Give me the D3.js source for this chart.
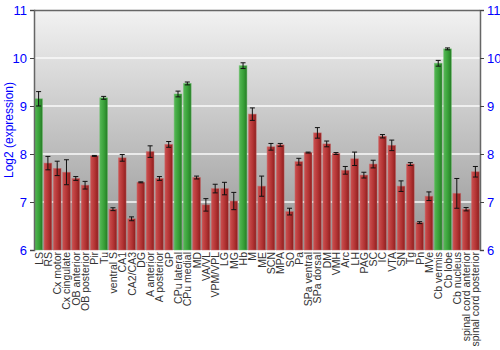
<!DOCTYPE html>
<html>
<head>
<meta charset="utf-8">
<script src="https://cdn.jsdelivr.net/npm/d3@7"></script>
<style>
  body { margin: 0; background: #fff; }
  text { font-family: "Liberation Sans", Arial, sans-serif; }
</style>
</head>
<body>
<div class="chart"></div>
<script>
const regions = ["LS", "RS", "Cx motor", "Cx cingulate", "OB anterior", "OB posterior", "Pir", "Tu",
  "ventral S", "CA1", "CA2/CA3", "DG", "A anterior", "A posterior", "GP", "CPu lateral", "CPu medial",
  "MD", "VA/VL", "VPM/VPL", "LG", "MG", "Hb", "M", "ME", "SCN", "MPA", "SO", "Pa", "SPa ventral",
  "SPa dorsal", "DM", "VMH", "Arc", "LH", "PAG", "SC", "IC", "VTA", "SN", "Tg", "Pn", "MVe",
  "Cb vermis", "Cb lobe", "Cb nucleus", "spinal cord anterior", "spinal cord posterior"];

const expression = [9.15, 7.81, 7.70, 7.62, 7.49, 7.35, 7.96, 9.17,
  6.85, 7.92, 6.65, 7.41, 8.05, 7.49, 8.20, 9.25, 9.47,
  7.51, 6.94, 7.28, 7.28, 7.02, 9.84, 8.83, 7.33, 8.15, 8.19, 6.80, 7.84, 8.03,
  8.44, 8.21, 8.01, 7.66, 7.90, 7.56, 7.79, 8.37, 8.18, 7.33, 7.79, 6.57, 7.12,
  9.89, 10.19, 7.18, 6.85, 7.63];

const errors = [0.15, 0.14, 0.15, 0.26, 0.04, 0.08, 0.01, 0.03,
  0.03, 0.07, 0.04, 0.01, 0.12, 0.04, 0.06, 0.06, 0.03,
  0.03, 0.13, 0.09, 0.13, 0.18, 0.06, 0.13, 0.21, 0.07, 0.03, 0.07, 0.07, 0.01,
  0.11, 0.06, 0.02, 0.08, 0.14, 0.06, 0.08, 0.035, 0.11, 0.11, 0.03, 0.02, 0.09,
  0.06, 0.02, 0.31, 0.035, 0.11];

const highlighted = ["LS", "Tu", "CPu lateral", "CPu medial", "Hb", "Cb vermis", "Cb lobe"];
const yTicks = [6, 7, 8, 9, 10, 11];

const data = regions.map((r, i) => ({ region: r, value: expression[i], err: errors[i] }));

const margin = { top: 10, left: 34, right: 20, bottom: 100 };
const totalWidth = 500, totalHeight = 350;
const width = totalWidth - margin.left - margin.right,
  height = totalHeight - margin.top - margin.bottom;

const svg = d3.select(".chart").append("svg")
  .attr("width", totalWidth)
  .attr("height", totalHeight);

const defs = svg.append("defs");

const bg = defs.append("linearGradient").attr("id", "bg")
  .attr("x1", 0).attr("y1", 0).attr("x2", 0).attr("y2", 1);
bg.append("stop").attr("offset", "0%").attr("stop-color", "#f2f2f2");
bg.append("stop").attr("offset", "100%").attr("stop-color", "#959595");

function barGradient(id, light, mid, dark) {
  const g = defs.append("linearGradient").attr("id", id)
    .attr("x1", 0).attr("y1", 0).attr("x2", 1).attr("y2", 0);
  g.append("stop").attr("offset", "0%").attr("stop-color", light);
  g.append("stop").attr("offset", "55%").attr("stop-color", mid);
  g.append("stop").attr("offset", "100%").attr("stop-color", dark);
}
barGradient("red", "#cc5050", "#b33434", "#8e1e1e");
barGradient("green", "#55b855", "#38a038", "#267a26");

const g = svg.append("g").attr("transform", `translate(${margin.left},${margin.top})`);

const x = d3.scaleBand().domain(regions).range([0, width]).paddingInner(0.17).paddingOuter(0.08);
const y = d3.scaleLinear().domain([6, 11]).range([height, 0]);

g.append("rect")
  .attr("width", width).attr("height", height)
  .attr("fill", "url(#bg)");

g.selectAll(".grid")
  .data(yTicks.filter((d) => d > 6 && d < 11))
  .enter().append("line")
  .attr("x1", 0).attr("x2", width)
  .attr("y1", (d) => y(d)).attr("y2", (d) => y(d))
  .attr("stroke", "#fafafa")
  .attr("stroke-width", 1.5);

g.selectAll(".bar")
  .data(data)
  .enter().append("rect")
  .attr("x", (d) => x(d.region))
  .attr("y", (d) => y(d.value))
  .attr("width", x.bandwidth())
  .attr("height", (d) => height - y(d.value))
  .attr("fill", (d) => highlighted.includes(d.region) ? "url(#green)" : "url(#red)")
  .attr("stroke", (d) => highlighted.includes(d.region) ? "#6cc06c" : "#c86a6a")
  .attr("stroke-opacity", 0.6)
  .attr("stroke-width", 0.8);

const errG = g.append("g").attr("stroke", "#111").attr("stroke-width", 1);
data.forEach((d) => {
  const cx = x(d.region) + x.bandwidth() / 2;
  errG.append("line")
    .attr("x1", cx).attr("x2", cx)
    .attr("y1", y(d.value + d.err)).attr("y2", y(d.value - d.err));
  [d.value + d.err, d.value - d.err].forEach((v) => {
    errG.append("line")
      .attr("x1", cx - 2.5).attr("x2", cx + 2.5)
      .attr("y1", y(v)).attr("y2", y(v));
  });
});

// frame
g.append("line").attr("x1", 0).attr("x2", width).attr("y1", 0.5).attr("y2", 0.5)
  .attr("stroke", "#666").attr("stroke-width", 1.5);

const yAxisL = d3.axisLeft(y).tickValues(yTicks).tickFormat(d3.format("d")).tickSize(4).tickPadding(3);
const yAxisR = d3.axisRight(y).tickValues(yTicks).tickFormat(d3.format("d")).tickSize(4).tickPadding(3);

const gl = g.append("g").call(yAxisL);
const gr = g.append("g").attr("transform", `translate(${width},0)`).call(yAxisR);
[gl, gr].forEach((a) => {
  a.select(".domain").attr("stroke", "#666").attr("stroke-width", 1.5);
  a.selectAll(".tick line").attr("stroke", "#444");
  a.selectAll(".tick text").attr("fill", "#0000ff").attr("font-size", 13)
    .attr("font-family", "Liberation Sans, Arial, sans-serif");
});

svg.append("text")
  .attr("transform", `translate(13,${margin.top + height / 2}) rotate(-90)`)
  .attr("text-anchor", "middle")
  .attr("fill", "#0000ff")
  .attr("font-size", 12)
  .text("Log2 (expression)");

g.selectAll(".xlabel")
  .data(regions)
  .enter().append("text")
  .attr("transform", (d) => `translate(${x(d) + x.bandwidth() / 2 + 4},${height + 2}) rotate(-90)`)
  .attr("text-anchor", "end")
  .attr("fill", "#333")
  .attr("font-size", 10.5)
  .text((d) => d);
</script>
</body>
</html>
